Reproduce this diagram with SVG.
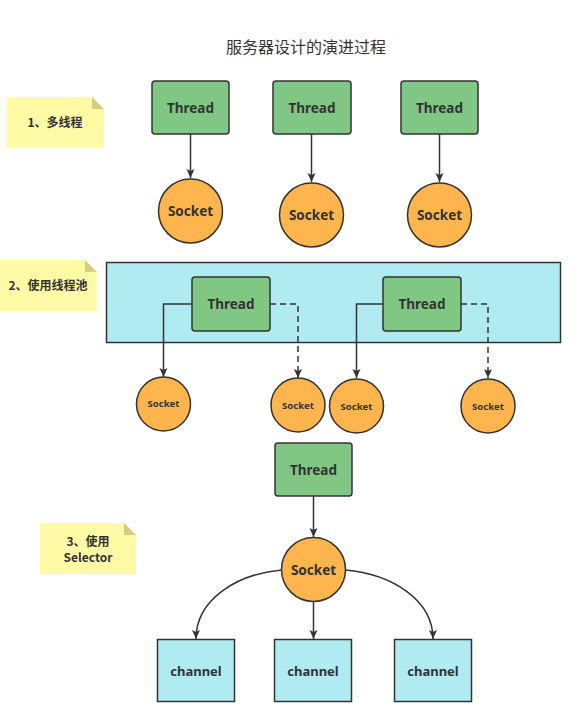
<svg xmlns="http://www.w3.org/2000/svg" width="583" height="710" viewBox="0 0 583 710">
<style>
.thread{fill:#81C784;stroke:#333;stroke-width:1.5}
.sock{fill:#FFB54D;stroke:#333;stroke-width:1.5}
.blue{fill:#B1EBF2;stroke:#333;stroke-width:1.5}
.note{fill:#FFFAA5}
.fold{fill:#D4CF80}
.t{font-family:"Noto Sans","Noto Sans CJK SC",sans-serif;font-weight:bold;fill:#333;text-anchor:middle;dominant-baseline:central}
.cn{font-family:"Noto Sans CJK SC",sans-serif;font-weight:bold;fill:#333;text-anchor:middle;font-size:12px}
.title{font-family:"Noto Sans CJK SC",sans-serif;fill:#333;font-size:16px}
.ln{fill:none;stroke:#333;stroke-width:1.5}
.dash{stroke-dasharray:6 4}
</style>
<defs>
<marker id="arr" markerUnits="userSpaceOnUse" markerWidth="10" markerHeight="10" viewBox="0 0 10 10" refX="9" refY="5" orient="auto">
<path d="M0,1 L9,5 L0,9 L2,5 Z" fill="#333"/>
</marker>
</defs>
<rect width="583" height="710" fill="#fff"/>
<text class="title" x="226" y="53">服务器设计的演进过程</text>

<g id="note1">
<path class="note" d="M7,97 H92 L104,109 V148 H7 Z"/>
<path class="fold" d="M92,97 L104,109 H92 Z"/>
<text class="cn" x="55" y="127">1、多线程</text>
</g>
<g id="note2">
<path class="note" d="M0,260 H85 L97,272 V311 H0 Z"/>
<path class="fold" d="M85,260 L97,272 H85 Z"/>
<text class="cn" x="48" y="290">2、使用线程池</text>
</g>
<g id="note3">
<path class="note" d="M40,523 H124 L136,535 V574 H40 Z"/>
<path class="fold" d="M124,523 L136,535 H124 Z"/>
<text class="cn" x="88" y="546">3、使用</text>
<text class="cn" x="88" y="562">Selector</text>
</g>

<g id="pool">
<rect class="blue" x="106.5" y="262.5" width="454" height="80"/>
</g>

<g id="connectors">
<line class="ln" x1="190.5" y1="134" x2="190.5" y2="178" marker-end="url(#arr)"/>
<line class="ln" x1="311.5" y1="134" x2="311.5" y2="182" marker-end="url(#arr)"/>
<line class="ln" x1="439.5" y1="134" x2="439.5" y2="182" marker-end="url(#arr)"/>
<path class="ln" d="M192,304 H163.5 V377" marker-end="url(#arr)"/>
<path class="ln dash" d="M270,304 H298 V378" marker-end="url(#arr)"/>
<path class="ln" d="M383,304 H356.5 V378" marker-end="url(#arr)"/>
<path class="ln dash" d="M461,304 H488 V378" marker-end="url(#arr)"/>
<line class="ln" x1="313.5" y1="496" x2="313.5" y2="537" marker-end="url(#arr)"/>
<path class="ln" d="M282,570 C236,574 196,600 196,639" marker-end="url(#arr)"/>
<line class="ln" x1="313.5" y1="602" x2="313.5" y2="639" marker-end="url(#arr)"/>
<path class="ln" d="M345,570 C392,574 433,600 433,639" marker-end="url(#arr)"/>
</g>

<g id="thread1"><rect class="thread" x="152" y="81" width="77" height="53" rx="3"/><text class="t" x="190.5" y="107.5" font-size="13.5">Thread</text></g>
<g id="thread2"><rect class="thread" x="273" y="81" width="78" height="53" rx="3"/><text class="t" x="312" y="107.5" font-size="13.5">Thread</text></g>
<g id="thread3"><rect class="thread" x="401" y="81" width="77" height="53" rx="3"/><text class="t" x="439.5" y="107.5" font-size="13.5">Thread</text></g>

<g id="socket1"><circle class="sock" cx="190.5" cy="211" r="32"/><text class="t" x="190.5" y="211" font-size="13.5">Socket</text></g>
<g id="socket2"><circle class="sock" cx="311.5" cy="215" r="32"/><text class="t" x="311.5" y="215" font-size="13.5">Socket</text></g>
<g id="socket3"><circle class="sock" cx="439.5" cy="215" r="32"/><text class="t" x="439.5" y="215" font-size="13.5">Socket</text></g>

<g id="threadA"><rect class="thread" x="192" y="277" width="78" height="54" rx="3"/><text class="t" x="231" y="304" font-size="13.5">Thread</text></g>
<g id="threadB"><rect class="thread" x="383" y="277" width="78" height="54" rx="3"/><text class="t" x="422" y="304" font-size="13.5">Thread</text></g>

<g id="socketA1"><circle class="sock" cx="163.5" cy="404" r="27"/><text class="t" x="163.5" y="403" font-size="9.5">Socket</text></g>
<g id="socketA2"><circle class="sock" cx="298" cy="405" r="27"/><text class="t" x="298" y="405" font-size="9.5">Socket</text></g>
<g id="socketB1"><circle class="sock" cx="356.5" cy="406" r="27"/><text class="t" x="356.5" y="406" font-size="9.5">Socket</text></g>
<g id="socketB2"><circle class="sock" cx="488" cy="406" r="27"/><text class="t" x="488" y="406" font-size="9.5">Socket</text></g>

<g id="threadC"><rect class="thread" x="275" y="443" width="77" height="53" rx="3"/><text class="t" x="313.5" y="469.5" font-size="13.5">Thread</text></g>
<g id="socketC"><circle class="sock" cx="313.5" cy="569.5" r="32"/><text class="t" x="313.5" y="569.5" font-size="13.5">Socket</text></g>

<g id="channel1"><rect class="blue" x="157.5" y="639.5" width="77" height="62"/><text class="t" x="196" y="670.5" font-size="13">channel</text></g>
<g id="channel2"><rect class="blue" x="274.5" y="639.5" width="77" height="62"/><text class="t" x="313" y="670.5" font-size="13">channel</text></g>
<g id="channel3"><rect class="blue" x="394.5" y="639.5" width="77" height="62"/><text class="t" x="433" y="670.5" font-size="13">channel</text></g>
</svg>
